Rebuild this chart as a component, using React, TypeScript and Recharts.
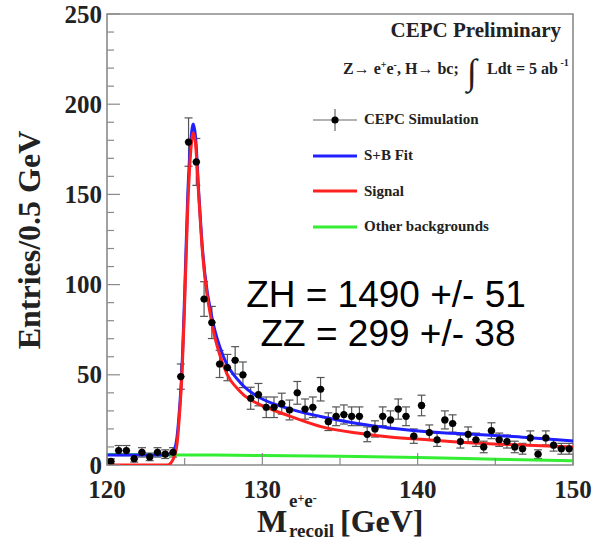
import React from 'react'
import {
  ComposedChart,
  Line,
  Scatter,
  ErrorBar,
  XAxis,
  YAxis,
  ReferenceArea,
  Legend,
} from 'recharts'

// 0.5 GeV bins, M_recoil
const binCenters = [
  120.25, 120.75, 121.25, 121.75, 122.25, 122.75, 123.25, 123.75, 124.25, 124.75,
  125.25, 125.75, 126.25, 126.75, 127.25, 127.75, 128.25, 128.75, 129.25, 129.75,
  130.25, 130.75, 131.25, 131.75, 132.25, 132.75, 133.25, 133.75, 134.25, 134.75,
  135.25, 135.75, 136.25, 136.75, 137.25, 137.75, 138.25, 138.75, 139.25, 139.75,
  140.25, 140.75, 141.25, 141.75, 142.25, 142.75, 143.25, 143.75, 144.25, 144.75,
  145.25, 145.75, 146.25, 146.75, 147.25, 147.75, 148.25, 148.75, 149.25, 149.75,
]

const entries = [
  2, 8, 8, 3.5, 7, 4.5, 7, 6, 7, 49,
  179, 168, 92, 79, 56, 54, 58, 50, 37, 39,
  32, 32, 34, 30.5, 40, 31, 32, 42, 24, 27,
  28, 27, 27, 17, 20, 27, 25, 31, 27, 16,
  33, 18, 14, 25, 23, 13, 17, 14, 10, 19,
  14, 13, 10, 9, 15, 6, 15, 11, 9, 9,
]

const entryErrors = [
  1.4, 2.8, 2.8, 1.9, 2.6, 2.1, 2.6, 2.4, 2.6, 7,
  13.4, 13, 9.6, 8.9, 7.5, 7.3, 7.6, 7.1, 6.1, 6.2,
  5.7, 5.7, 5.8, 5.5, 6.3, 5.6, 5.7, 6.5, 4.9, 5.2,
  5.3, 5.2, 5.2, 4.1, 4.5, 5.2, 5, 5.6, 5.2, 4,
  5.7, 4.2, 3.7, 5, 4.8, 3.6, 4.1, 3.7, 3.2, 4.4,
  3.7, 3.6, 3.2, 3, 3.9, 2.4, 3.9, 3.3, 3, 3,
]

const halfBin = 0.25

// fitted curves
const sbX = [
  120, 123.5, 124, 124.3, 124.5, 124.7, 124.8, 125, 125.2, 125.4, 125.55, 125.7,
  125.9, 126.1, 126.3, 126.8, 127.5, 128.6, 129.7, 130.7, 131.8, 133.9, 136.1,
  138.2, 140.8, 143.6, 147, 150,
]
const sbY = [
  5.5, 5.5, 6, 8, 15, 35, 49, 95, 150, 180, 189, 182,
  152, 125, 106, 80, 60, 45.5, 38, 34, 31, 26.6, 23,
  20.5, 18.3, 17, 15.3, 13.3,
]

const sigX = [
  120, 123.9, 124.1, 124.3, 124.5, 124.7, 124.8, 125, 125.2, 125.4, 125.55, 125.7,
  125.9, 126.1, 126.3, 126.8, 127.5, 128.6, 129.7, 130.7, 131.8, 133.9, 136.1,
  138.2, 140.8, 143.6, 147, 150,
]
const sigY = [
  0, 0, 1, 4, 11, 32, 46, 90, 143, 175, 184, 178,
  150, 123, 104, 76.5, 55, 40.5, 34, 30.5, 27, 21, 17.7,
  15.5, 13.9, 12.2, 11, 10,
]

const bkgX = [120, 125, 130, 135, 140, 145, 150]
const bkgY = [5.8, 5.6, 5.3, 4.8, 4.2, 3.2, 2.3]

const xTicks = [120, 125, 130, 135, 140, 145, 150]
const xLabels = [120, 130, 140, 150]
const yTicks = [0, 10, 20, 30, 40, 50, 60, 70, 80, 90, 100, 110, 120, 130, 140, 150,
  160, 170, 180, 190, 200, 210, 220, 230, 240, 250]
const yLabels = [0, 50, 100, 150, 200, 250]

const legendLabels = ['CEPC Simulation', 'S+B Fit', 'Signal', 'Other backgrounds']

const BLUE = '#2020ff'
const RED = '#ff2020'
const GREEN = '#33ee33'
const FRAME = '#8a8a8a'
const SERIF = '"Liberation Serif", "Times New Roman", serif'
const SANS = '"Liberation Sans", Arial, sans-serif'

const points = binCenters.map((x, i) => ({ x, y: entries[i], err: entryErrors[i], xErr: halfBin }))
const sbFit = sbX.map((x, i) => ({ x, y: sbY[i] }))
const signal = sigX.map((x, i) => ({ x, y: sigY[i] }))
const background = bkgX.map((x, i) => ({ x, y: bkgY[i] }))
const legendColors = ['#000', BLUE, RED, GREEN]

function renderYTick(props: any) {
  const { x, y, payload } = props
  const major = yLabels.includes(payload.value)
  return (
    <g>
      <line x1={x} x2={x + (major ? 13 : 7)} y1={y} y2={y} stroke={FRAME} strokeWidth={1.2} />
      {major && (
        <text x={x - 5} y={y + 8.5} textAnchor="end" fontFamily={SERIF} fontWeight="bold"
          fontSize={25} fill="#222">
          {payload.value}
        </text>
      )}
    </g>
  )
}

function renderXTick(props: any) {
  const { x, y, payload } = props
  const major = xLabels.includes(payload.value)
  return (
    <g>
      <line x1={x} x2={x} y1={y} y2={y - (major ? 12 : 7)} stroke={FRAME} strokeWidth={1.2} />
      {major && (
        <text x={x} y={y + 33} textAnchor="middle" fontFamily={SERIF} fontWeight="bold"
          fontSize={25} fill="#222">
          {payload.value}
        </text>
      )}
    </g>
  )
}

function Dot(props: any) {
  return <circle cx={props.cx} cy={props.cy} r={3.6} fill="#000" />
}

function LegendBox() {
  return (
    <div style={{ fontFamily: SERIF, fontWeight: 'bold', fontSize: 15, color: '#222' }}>
      {legendLabels.map((label, i) => (
        <div key={label} style={{ display: 'flex', alignItems: 'center', height: 35.7 }}>
          <svg width={44} height={22}>
            {i === 0 ? (
              <g>
                <line x1={0} x2={44} y1={11} y2={11} stroke="#666" strokeWidth={1.2} />
                <line x1={22} x2={22} y1={0} y2={22} stroke="#666" strokeWidth={1.2} />
                <circle cx={22} cy={11} r={3.6} fill="#000" />
              </g>
            ) : (
              <line x1={0} x2={44} y1={11} y2={11} stroke={legendColors[i]} strokeWidth={3} />
            )}
          </svg>
          <span style={{ marginLeft: 7 }}>{label}</span>
        </div>
      ))}
    </div>
  )
}

export default function App() {
  return (
    <div style={{ position: 'absolute', left: 0, top: 0, width: 592, height: 542, background: '#fff' }}>
      <ComposedChart width={592} height={542} margin={{ top: 14, right: 19, left: 0, bottom: 0 }}>
        <XAxis
          dataKey="x"
          type="number"
          domain={[120, 150]}
          allowDataOverflow
          ticks={xTicks}
          interval={0}
          tick={renderXTick}
          tickLine={false}
          axisLine={false}
          tickSize={0}
          tickMargin={0}
          height={77}
        />
        <YAxis
          dataKey="y"
          type="number"
          domain={[0, 250]}
          allowDataOverflow
          ticks={yTicks}
          interval={0}
          tick={renderYTick}
          tickLine={false}
          axisLine={false}
          tickSize={0}
          tickMargin={0}
          width={107}
        />
        <Scatter data={points} dataKey="y" shape={Dot} isAnimationActive={false}>
          <ErrorBar dataKey="err" direction="y" width={4} stroke="#555" strokeWidth={1.2}
            isAnimationActive={false} />
          <ErrorBar dataKey="xErr" direction="x" width={0} stroke="#555" strokeWidth={1.2}
            isAnimationActive={false} />
        </Scatter>
        <Line data={background} dataKey="y" type="monotone" stroke={GREEN} strokeWidth={3}
          dot={false} isAnimationActive={false} />
        <Line data={sbFit} dataKey="y" type="monotone" stroke={BLUE} strokeWidth={3}
          dot={false} isAnimationActive={false} />
        <Line data={signal} dataKey="y" type="monotone" stroke={RED} strokeWidth={3}
          dot={false} isAnimationActive={false} />
        <ReferenceArea x1={120} x2={150} y1={0} y2={250} fill="none" fillOpacity={0}
          stroke={FRAME} strokeWidth={1.6} ifOverflow="visible" />
        <Legend
          layout="vertical"
          align="center"
          verticalAlign="middle"
          content={() => <LegendBox />}
          wrapperStyle={{ left: 313, top: 102, width: 260 }}
        />
      </ComposedChart>
      <svg width={592} height={542} style={{ position: 'absolute', left: 0, top: 0, pointerEvents: 'none' }}>
        <text x={561} y={37} textAnchor="end" fontFamily={SERIF} fontWeight="bold" fontSize={21} fill="#222">
          CEPC Preliminary
        </text>
        <text x={343} y={74} fontFamily={SERIF} fontWeight="bold" fontSize={16} fill="#222">
          Z→ e<tspan dy={-6} fontSize={10}>+</tspan><tspan dy={6}>e</tspan>
          <tspan dy={-6} fontSize={10}>-</tspan><tspan dy={6}>, H→ bc;</tspan>
        </text>
        <text x={467} y={84} fontFamily={SERIF} fontWeight="bold" fontSize={36} fill="#222">∫</text>
        <text x={487} y={74} fontFamily={SERIF} fontWeight="bold" fontSize={16} fill="#222">
          Ldt = 5 ab<tspan dy={-8} fontSize={10}> -1</tspan>
        </text>
        <text x={386} y={307} textAnchor="middle" fontFamily={SANS} fontSize={37} fill="#000">
          ZH = 1490 +/- 51
        </text>
        <text x={388} y={346} textAnchor="middle" fontFamily={SANS} fontSize={37} fill="#000">
          ZZ = 299 +/- 38
        </text>
        <text transform="translate(40,240) rotate(-90)" textAnchor="middle" fontFamily={SERIF}
          fontWeight="bold" fontSize={32} fill="#222">
          Entries/0.5 GeV
        </text>
        <text x={257} y={532} fontFamily={SERIF} fontWeight="bold" fontSize={32} fill="#222">M</text>
        <text x={289} y={507} fontFamily={SERIF} fontWeight="bold" fontSize={19} fill="#222">
          e<tspan dy={-5} fontSize={12}>+</tspan><tspan dy={5}>e</tspan><tspan dy={-5} fontSize={12}>-</tspan>
        </text>
        <text x={289} y={537} fontFamily={SERIF} fontWeight="bold" fontSize={19} fill="#222">recoil</text>
        <text x={340} y={532} fontFamily={SERIF} fontWeight="bold" fontSize={32} fill="#222">[GeV]</text>
      </svg>
    </div>
  )
}
